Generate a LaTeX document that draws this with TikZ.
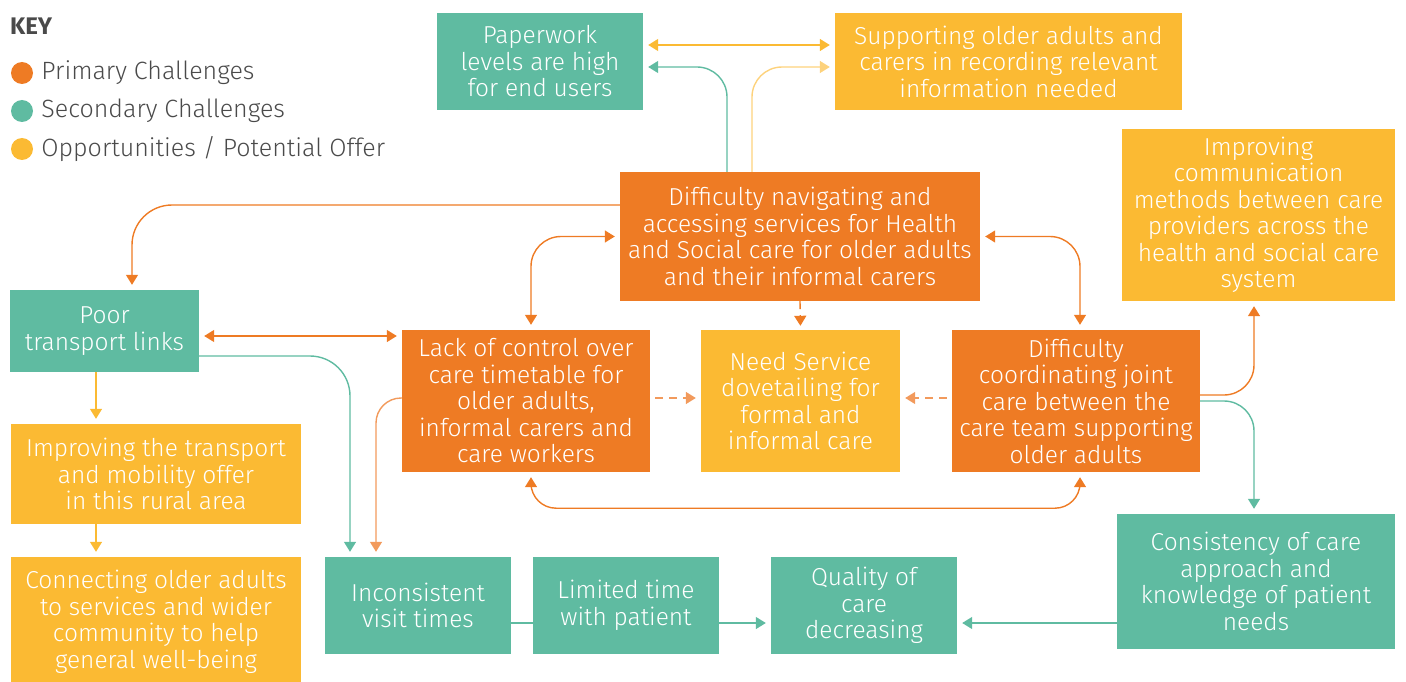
\documentclass[tikz,border=0pt]{standalone}
\usepackage{fontspec}
\usepackage{xcolor}
\usetikzlibrary{arrows.meta,positioning}
\IfFontExistsTF{Fira Sans Light}{\setmainfont{Fira Sans Light}}{\setmainfont{Fira Sans}}
\newfontfamily\keyfont{Fira Sans}

\definecolor{prim}{HTML}{EE7B24}
\definecolor{sec}{HTML}{5FBBA1}
\definecolor{opp}{HTML}{FBBA33}
\definecolor{opplight}{HTML}{FDD27C}
\definecolor{primlight}{HTML}{F29A5C}
\definecolor{keygrey}{HTML}{4A4A4A}

\tikzset{
  box/.style={rectangle, inner sep=0pt, align=center, text=white,
    font=\fontsize{24.5}{26.5}\selectfont},
  primbox/.style={box, fill=prim},
  secbox/.style={box, fill=sec},
  oppbox/.style={box, fill=opp},
  link/.style={line width=1.4pt, rounded corners=30pt,
    -{Triangle[width=12pt,length=10pt]}, shorten >=5pt},
  twoway/.style={link, {Triangle[width=12pt,length=10pt]}-{Triangle[width=12pt,length=10pt]}, shorten <=5pt},
  dashlink/.style={link, dash pattern=on 8pt off 6pt, shorten <=5pt},
  keydot/.style={circle, inner sep=0pt, minimum size=22pt},
  keytext/.style={right=8pt of #1, inner sep=0pt, text=keygrey, font=\fontsize{25}{26}\selectfont},
}

\begin{document}
\begin{tikzpicture}[x=1pt, y=-1pt]
  \useasboundingbox (0,0) rectangle (1406,682);

  % key
  \node[anchor=west, inner sep=0pt, text=keygrey, font=\keyfont\bfseries\fontsize{24}{26}\selectfont] (key) at (10,26) {KEY};
  \node[keydot, fill=prim] (kprim) at (22,73) {};
  \node[keytext=kprim] (kprimt) {Primary Challenges};
  \node[keydot, fill=sec] (ksec) at (22,111) {};
  \node[keytext=ksec] (ksect) {Secondary Challenges};
  \node[keydot, fill=opp] (kopp) at (22,149) {};
  \node[keytext=kopp] (koppt) {Opportunities / Potential Offer};

  % boxes
  \node[secbox, minimum width=206pt, minimum height=97pt] (paper) at (540,61.5)
    {Paperwork\\levels are high\\for end users};
  \node[oppbox, minimum width=347pt, minimum height=97pt] (supp) at (1008.5,61.5)
    {Supporting older adults and\\carers in recording relevant\\information needed};
  \node[primbox, minimum width=360pt, minimum height=129pt] (nav) at (800,236.5)
    {Difficulty navigating and\\accessing services for Health\\and Social care for older adults\\and their informal carers};
  \node[oppbox, minimum width=273pt, minimum height=172pt] (comm) at (1258.5,215)
    {Improving\\communication\\methods between care\\providers across the\\health and social care\\system};
  \node[secbox, minimum width=189pt, minimum height=82pt] (poor) at (104.5,331)
    {Poor\\transport links};
  \node[primbox, minimum width=248pt, minimum height=142pt] (lack) at (526,401)
    {Lack of control over\\care timetable for\\older adults,\\informal carers and\\care workers};
  \node[oppbox, minimum width=199pt, minimum height=142pt] (need) at (800.5,401)
    {Need Service\\dovetailing for\\formal and\\informal care};
  \node[primbox, minimum width=248pt, minimum height=142pt] (coord) at (1076,401)
    {Difficulty\\coordinating joint\\care between the\\care team supporting\\older adults};
  \node[oppbox, minimum width=290pt, minimum height=100pt] (imptr) at (156,474)
    {Improving the transport\\and mobility offer\\in this rural area};
  \node[oppbox, minimum width=290pt, minimum height=130pt] (conn) at (156,622)
    {Connecting older adults\\to services and wider\\community to help\\general well-being};
  \node[secbox, minimum width=186pt, minimum height=97pt] (inc) at (418,605.5)
    {Inconsistent\\visit times};
  \node[secbox, minimum width=186pt, minimum height=97pt] (lim) at (626,605.5)
    {Limited time\\with patient};
  \node[secbox, minimum width=186pt, minimum height=97pt] (qual) at (864,605.5)
    {Quality of\\care\\decreasing};
  \node[secbox, minimum width=278pt, minimum height=135pt] (cons) at (1256,581.5)
    {Consistency of care\\approach and\\knowledge of patient\\needs};

  % top links
  \draw[twoway, opp] ([yshift=16.5pt]paper.east) -- ([yshift=16.5pt]supp.west);
  \draw[link, sec] ([xshift=-73pt]nav.north) |- ([yshift=-5.5pt]paper.east);
  \draw[link, opplight] ([xshift=-48pt]nav.north) |- ([yshift=-5.5pt]supp.west);
  \draw[link, prim, rounded corners=40pt] ([yshift=31.5pt]nav.west) -| ([xshift=27.5pt]poor.north);

  % left side
  \draw[twoway, prim] ([yshift=-5pt]poor.east) -- ([yshift=65pt]lack.west);
  \draw[link, sec, rounded corners=40pt] ([yshift=-25pt]poor.east) -| ([xshift=-68pt]inc.north);
  \draw[link, opp] ([xshift=-8.5pt]poor.south) -- ([xshift=-60pt]imptr.north);
  \draw[link, opp] ([xshift=-60pt]imptr.south) -- ([xshift=-60pt]conn.north);
  \draw[link, primlight, rounded corners=25pt] ([yshift=3pt]lack.west) -| ([xshift=-42pt]inc.north);

  % middle
  \draw[twoway, prim] ([xshift=5pt]lack.north) |- (nav.west);
  \draw[twoway, prim] (nav.east) -| ([xshift=4pt]coord.north);
  \draw[link, prim, dash pattern=on 8pt off 6pt, shorten >=4pt] (nav.south) -- (need.north);
  \draw[dashlink, primlight] ([yshift=3pt]lack.east) -- ([yshift=3pt]need.west);
  \draw[dashlink, primlight] ([yshift=3pt]coord.west) -- ([yshift=3pt]need.east);
  \draw[twoway, prim, rounded corners=25pt] ([xshift=5pt]lack.south) -- ++(0,36) -| ([xshift=4pt]coord.south);

  % right side
  \draw[link, prim] ([yshift=6pt]coord.east) -| ([xshift=-4.5pt]comm.south);
  \draw[link, sec] (coord.east) -| ([xshift=-2pt]cons.north);

  % bottom row
  \draw[link, sec] ([yshift=-41.5pt]cons.west) -- ([yshift=-17.5pt]qual.east);
  \draw[link, sec] ([yshift=-17.5pt]lim.east) -- ([yshift=-17.5pt]qual.west);
  \draw[sec, line width=1.4pt] ([yshift=-17.5pt]inc.east) -- ([yshift=-17.5pt]lim.west);
\end{tikzpicture}
\end{document}
